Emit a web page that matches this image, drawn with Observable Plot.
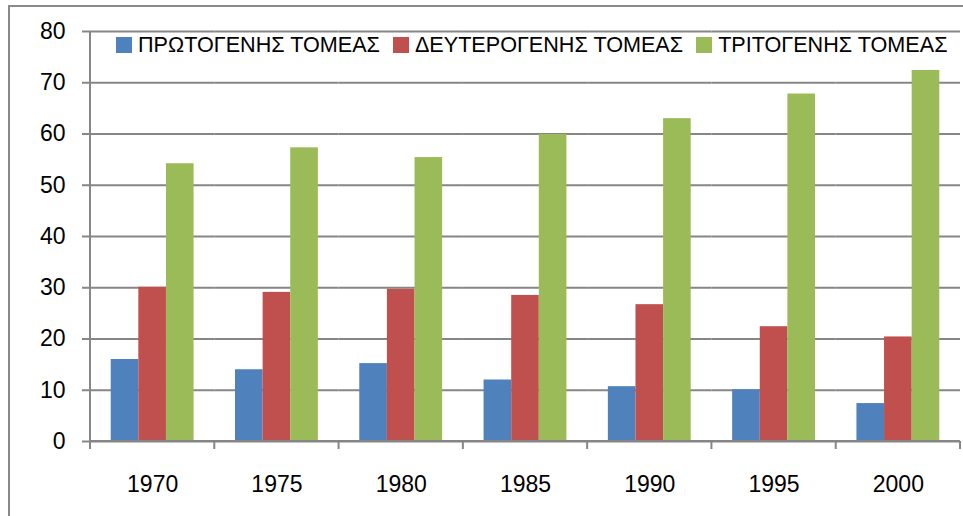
<!DOCTYPE html>
<html>
<head>
<meta charset="utf-8">
<script src="https://cdn.jsdelivr.net/npm/d3@7"></script>
<script src="https://cdn.jsdelivr.net/npm/@observablehq/plot@0.6"></script>
<style>
  html, body { margin: 0; padding: 0; background: #fff; }
  body { width: 963px; height: 516px; position: relative; overflow: hidden; font-family: "Liberation Sans", Arial, sans-serif; }
  #frame { position: absolute; left: 8px; top: 5px; width: 1000px; height: 600px; border: 2px solid #8a8a8a; box-sizing: border-box; }
  #chart { position: absolute; left: 0; top: 0; }
  #legend { position: absolute; left: 116px; top: 32px; display: flex; align-items: center; font-size: 21.6px; color: #000; white-space: nowrap; }
  #legend .item { display: flex; align-items: center; margin-right: 13px; }
  #legend .sw { width: 16px; height: 16px; margin-right: 6px; }
</style>
</head>
<body>
<div id="frame"></div>
<div id="chart"></div>
<div id="legend"></div>
<script>
const years = ["1970", "1975", "1980", "1985", "1990", "1995", "2000"];
const series = ["ΠΡΩΤΟΓΕΝΗΣ ΤΟΜΕΑΣ", "ΔΕΥΤΕΡΟΓΕΝΗΣ ΤΟΜΕΑΣ", "ΤΡΙΤΟΓΕΝΗΣ ΤΟΜΕΑΣ"];
const primary = [16.0, 14.0, 15.2, 12.0, 10.7, 10.1, 7.4];
const secondary = [30.1, 29.1, 29.7, 28.5, 26.7, 22.4, 20.4];
const tertiary = [54.2, 57.3, 55.4, 59.9, 63.0, 67.8, 72.4];
const colors = ["#4F81BD", "#C0504D", "#9BBB59"];
const yTicks = [0, 10, 20, 30, 40, 50, 60, 70, 80];

const valuesBySeries = [primary, secondary, tertiary];
const data = [];
years.forEach((yr, i) => {
  series.forEach((s, j) => data.push({year: yr, series: s, value: valuesBySeries[j][i]}));
});

const gridColor = "#868686";

const chart = Plot.plot({
  width: 963,
  height: 516,
  marginLeft: 90,
  marginRight: 3,
  marginTop: 31,
  marginBottom: 75,
  style: {fontFamily: "'Liberation Sans', Arial, sans-serif", fontSize: "23px", color: "#000", background: "#fff0"},
  fx: {domain: years, padding: 0, round: false, label: null},
  x: {domain: series, paddingInner: 0, paddingOuter: 0.75, round: false, axis: null},
  y: {domain: [0, 80], label: null},
  color: {domain: series, range: colors},
  marks: [
    Plot.gridY(yTicks, {stroke: gridColor, strokeOpacity: 1, strokeWidth: 2}),
    Plot.barY(data, {fx: "year", x: "series", y: "value", fill: "series"}),
    Plot.axisY(yTicks, {tickSize: 8, tickPadding: 17, stroke: gridColor, strokeWidth: 2, fontSize: 23, tickFormat: d => String(d)}),
    Plot.axisFx({anchor: "bottom", tickSize: 0, tickPadding: 34, fontSize: 23, label: null})
  ]
});
document.getElementById("chart").appendChild(chart);

// axis lines and category-boundary ticks from Plot's own scales
const fx = chart.scale("fx");
const y = chart.scale("y");
const svg = d3.select(chart);
const y0 = y.apply(0);
const yTop = y.apply(80);
const bounds = years.map(yr => fx.apply(yr)).concat([fx.apply(years[years.length - 1]) + fx.bandwidth]);
const g = svg.append("g").attr("stroke", gridColor).attr("stroke-width", 2);
g.append("line").attr("x1", bounds[0]).attr("x2", bounds[0]).attr("y1", yTop).attr("y2", y0 + 8);
g.append("line").attr("x1", bounds[0]).attr("x2", bounds[bounds.length - 1]).attr("y1", y0).attr("y2", y0);
bounds.slice(1).forEach(b => g.append("line").attr("x1", b).attr("x2", b).attr("y1", y0).attr("y2", y0 + 8));

// legend
const legend = d3.select("#legend");
series.forEach((s, i) => {
  const it = legend.append("div").attr("class", "item");
  it.append("div").attr("class", "sw").style("background", colors[i]);
  it.append("span").text(s);
});
</script>
</body>
</html>
